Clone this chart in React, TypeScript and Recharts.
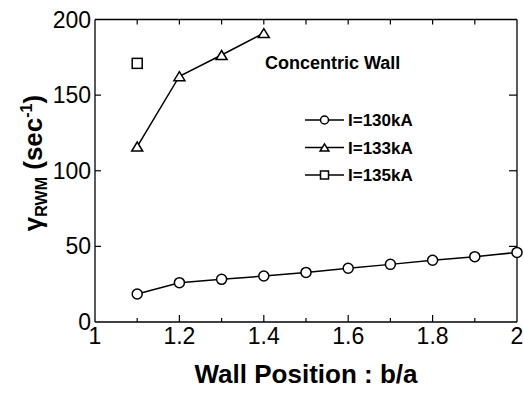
import React from 'react';
import { LineChart, Line, XAxis, YAxis } from 'recharts';

const FONT = "Arial, 'Liberation Sans', sans-serif";

// wall position b/a and growth rate (sec^-1) for each plasma current
const wallPos130 = [1.1, 1.2, 1.3, 1.4, 1.5, 1.6, 1.7, 1.8, 1.9, 2.0];
const gamma130 = [18.5, 26, 28.2, 30.4, 32.8, 35.5, 38.1, 40.8, 43.2, 46];
const wallPos133 = [1.1, 1.2, 1.3, 1.4];
const gamma133 = [116, 162.5, 176.5, 191];
const wallPos135 = [1.1];
const gamma135 = [171];

const seriesNames = ['I=130kA', 'I=133kA', 'I=135kA'];

const xTicks = [1, 1.1, 1.2, 1.3, 1.4, 1.5, 1.6, 1.7, 1.8, 1.9, 2];
const xTickLabels = ['1', '', '1.2', '', '1.4', '', '1.6', '', '1.8', '', '2'];
const yTicks = [0, 50, 100, 150, 200];
const yTickLabels = ['0', '50', '100', '150', '200'];

const X_DOMAIN: [number, number] = [1, 2];
const Y_DOMAIN: [number, number] = [0, 200];
const CHART_W = 516;
const CHART_H = 385;
const MARGIN = { top: 11.5, right: 7, bottom: 0, left: 0 };
const Y_AXIS_W = 87;
const X_AXIS_H = 71;

// plot box, same layout that recharts derives from the margins above
const plotLeft = MARGIN.left + Y_AXIS_W;
const plotRight = CHART_W - MARGIN.right;
const plotTop = MARGIN.top;
const plotBottom = CHART_H - MARGIN.bottom - X_AXIS_H;
const px = (v: number) => plotLeft + ((v - X_DOMAIN[0]) / (X_DOMAIN[1] - X_DOMAIN[0])) * (plotRight - plotLeft);
const py = (v: number) => plotBottom - ((v - Y_DOMAIN[0]) / (Y_DOMAIN[1] - Y_DOMAIN[0])) * (plotBottom - plotTop);

const toPoints = (xs: number[], ys: number[]) => xs.map((x, i) => ({ x, y: ys[i] }));

const Marker = ({ kind, cx, cy, size }: { kind: number; cx: number; cy: number; size: number }) => {
  if (kind === 0) {
    return <circle cx={cx} cy={cy} r={size / 2} fill="#fff" stroke="#000" strokeWidth={1.5} />;
  }
  if (kind === 1) {
    const w = size * 1.1;
    const h = size * 0.9;
    return (
      <polygon
        points={`${cx - w / 2},${cy + h / 2} ${cx + w / 2},${cy + h / 2} ${cx},${cy - h / 2}`}
        fill="#fff"
        stroke="#000"
        strokeWidth={1.5}
      />
    );
  }
  return <rect x={cx - size / 2} y={cy - size / 2} width={size} height={size} fill="#fff" stroke="#000" strokeWidth={1.5} />;
};

const makeDot = (kind: number) => (props: any) => {
  const { cx, cy, index } = props;
  return <Marker key={`dot-${kind}-${index}`} kind={kind} cx={cx} cy={cy} size={10} />;
};

const BottomTick = ({ x, y, index }: any) => (
  <text x={x} y={y + 22} textAnchor="middle" fontSize={23} fontFamily={FONT} fill="#000">
    {xTickLabels[index]}
  </text>
);

const LeftTick = ({ x, y, index }: any) => (
  <text x={x - 4} y={y + 8} textAnchor="end" fontSize={23} fontFamily={FONT} fill="#000">
    {yTickLabels[index]}
  </text>
);

// top and right edges of the box plus inward tick marks on all sides
const Frame = () => (
  <g stroke="#000" strokeWidth={1.2} fill="none">
    <line x1={plotLeft} y1={plotTop} x2={plotRight} y2={plotTop} strokeWidth={1.3} />
    <line x1={plotRight} y1={plotTop} x2={plotRight} y2={plotBottom} strokeWidth={1.3} />
    {xTicks.slice(1, -1).map((t, i) => {
      const major = xTickLabels[i + 1] !== '';
      return (
        <g key={`xt-${t}`}>
          <line x1={px(t)} y1={plotBottom} x2={px(t)} y2={plotBottom - (major ? 7 : 4)} />
          <line x1={px(t)} y1={plotTop} x2={px(t)} y2={plotTop + 5} />
        </g>
      );
    })}
    {yTicks.slice(1, -1).map((t) => (
      <g key={`yt-${t}`}>
        <line x1={plotLeft} y1={py(t)} x2={plotLeft + 6} y2={py(t)} />
        <line x1={plotRight} y1={py(t)} x2={plotRight - 8} y2={py(t)} />
      </g>
    ))}
  </g>
);

const LegendBox = () => (
  <g transform="translate(297,112)">
    {seriesNames.map((name, i) => {
      const cy = i * 27.5;
      return (
        <g key={name}>
          <line x1={0} y1={cy} x2={39} y2={cy} stroke="#000" strokeWidth={1.5} />
          <Marker kind={i} cx={19.5} cy={cy} size={8} />
          <text x={43} y={cy + 6} fontSize={17} fontWeight="bold" fontFamily={FONT} fill="#000">
            {name}
          </text>
        </g>
      );
    })}
  </g>
);

const YTitle = () => (
  <text
    transform="translate(34,155) rotate(-90)"
    textAnchor="middle"
    fontFamily={FONT}
    fontWeight="bold"
    fontSize={26}
    fill="#000"
  >
    γ<tspan fontSize={16} dy={5}>RWM</tspan>
    <tspan dy={-5}> (sec</tspan>
    <tspan fontSize={16} dy={-10}>-1</tspan>
    <tspan dy={10}>)</tspan>
  </text>
);

const XTitle = () => (
  <text x={298} y={375} textAnchor="middle" fontFamily={FONT} fontWeight="bold" fontSize={26} fill="#000">
    Wall Position : b/a
  </text>
);

const App: React.FC = () => {
  const data130 = toPoints(wallPos130, gamma130);
  const data133 = toPoints(wallPos133, gamma133);
  const data135 = toPoints(wallPos135, gamma135);

  return (
    <div style={{ position: 'absolute', left: 8, top: 8, width: CHART_W, height: CHART_H, background: '#fff' }}>
      <LineChart width={CHART_W} height={CHART_H} margin={MARGIN}>
        <XAxis
          type="number"
          dataKey="x"
          domain={X_DOMAIN}
          ticks={xTicks}
          interval={0}
          height={X_AXIS_H}
          tickSize={0}
          tickMargin={0}
          tickLine={false}
          axisLine={{ stroke: '#000', strokeWidth: 1.3 }}
          tick={<BottomTick />}
          label={<XTitle />}
        />
        <YAxis
          type="number"
          domain={Y_DOMAIN}
          ticks={yTicks}
          interval={0}
          width={Y_AXIS_W}
          tickSize={0}
          tickMargin={0}
          tickLine={false}
          axisLine={{ stroke: '#000', strokeWidth: 1.3 }}
          tick={<LeftTick />}
          label={<YTitle />}
        />
        <Frame />
        <Line
          name={seriesNames[0]}
          data={data130}
          dataKey="y"
          stroke="#000"
          strokeWidth={1.5}
          dot={makeDot(0)}
          isAnimationActive={false}
        />
        <Line
          name={seriesNames[1]}
          data={data133}
          dataKey="y"
          stroke="#000"
          strokeWidth={1.5}
          dot={makeDot(1)}
          isAnimationActive={false}
        />
        <Line
          name={seriesNames[2]}
          data={data135}
          dataKey="y"
          stroke="#000"
          strokeWidth={1.5}
          dot={makeDot(2)}
          isAnimationActive={false}
        />
        <LegendBox />
        <text x={257} y={61} fontFamily={FONT} fontWeight="bold" fontSize={18} fill="#000">
          Concentric Wall
        </text>
      </LineChart>
    </div>
  );
};

export default App;
